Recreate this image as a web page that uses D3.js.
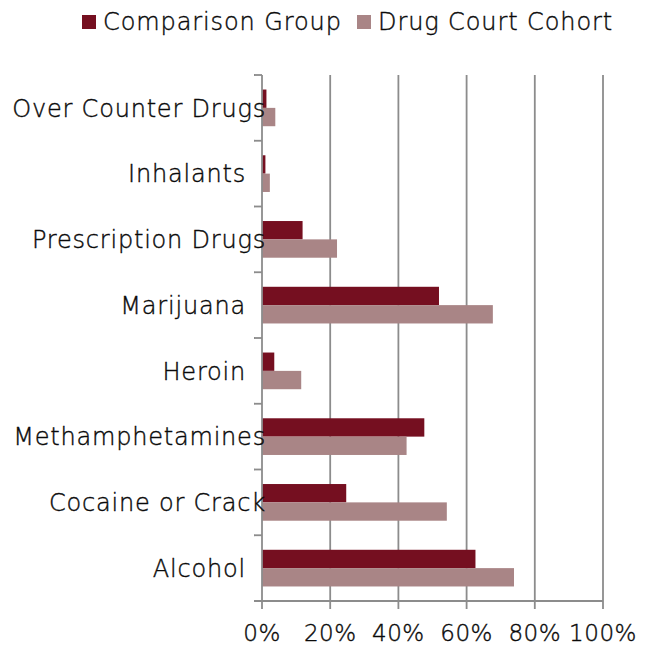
<!DOCTYPE html>
<html>
<head>
<meta charset="utf-8">
<script src="https://cdn.jsdelivr.net/npm/d3@7"></script>
<style>
  body { margin: 0; background: #fff; }
  svg text { font-family: "DejaVu Sans ExtraLight", "DejaVu Sans Light", "DejaVu Sans", sans-serif;
             font-weight: 300; fill: #0a0a0a; stroke: #0a0a0a; stroke-width: 0.4px; }
</style>
</head>
<body>
<svg id="chart" width="649" height="647"></svg>
<script>
// categories top -> bottom
var categories = ["Over Counter Drugs", "Inhalants", "Prescription Drugs", "Marijuana",
                  "Heroin", "Methamphetamines", "Cocaine or Crack", "Alcohol"];
var seriesNames = ["Comparison Group", "Drug Court Cohort"];
var comparison = [1.3, 1.0, 11.9, 51.9, 3.6, 47.6, 24.7, 62.6];
var drugCourt  = [3.9, 2.3, 22.0, 67.7, 11.5, 42.4, 54.2, 73.9];
var xTicks = [0, 20, 40, 60, 80, 100];
var colors = ["#750f20", "#a98586"];

const svg = d3.select("#chart"),
  plotL = 262, plotR = 603, plotT = 75, plotB = 601,
  gridCol = "#8c8c8c";

var data = categories.map((c, i) => ({cat: c, vals: [comparison[i], drugCourt[i]]}));

const x = d3.scaleLinear().domain([0, 100]).range([plotL, plotR]);
const y0 = d3.scaleBand().domain(categories).range([plotT, plotB])
  .paddingInner(0.442).paddingOuter(0.221);
const y1 = d3.scaleBand().domain([0, 1]).range([0, y0.bandwidth()]);

// gridlines
svg.append("g").selectAll("line")
  .data(xTicks.slice(1))
  .enter().append("line")
  .attr("x1", d => x(d)).attr("x2", d => x(d))
  .attr("y1", plotT).attr("y2", plotB + 8)
  .attr("stroke", gridCol).attr("stroke-width", 1.8);

// bars
var g = svg.append("g");
data.forEach(d => {
  g.selectAll(null)
    .data(d.vals)
    .enter().append("rect")
    .attr("x", x(0))
    .attr("y", (v, j) => y0(d.cat) + y1(j))
    .attr("width", v => x(v) - x(0))
    .attr("height", y1.bandwidth())
    .attr("fill", (v, j) => colors[j]);
});

// y axis with ticks at category boundaries
var bounds = d3.range(categories.length + 1).map(i => plotT + i * y0.step());
svg.append("line")
  .attr("x1", plotL).attr("x2", plotL).attr("y1", plotT).attr("y2", plotB)
  .attr("stroke", gridCol).attr("stroke-width", 1.8);
svg.append("g").selectAll("line").data(bounds).enter().append("line")
  .attr("x1", plotL - 8).attr("x2", plotL).attr("y1", d => d).attr("y2", d => d)
  .attr("stroke", gridCol).attr("stroke-width", 1.8);

// x axis
svg.append("line")
  .attr("x1", plotL - 8).attr("x2", plotR).attr("y1", plotB).attr("y2", plotB)
  .attr("stroke", gridCol).attr("stroke-width", 1.8);
svg.append("line")
  .attr("x1", plotL).attr("x2", plotL).attr("y1", plotB).attr("y2", plotB + 8)
  .attr("stroke", gridCol).attr("stroke-width", 1.8);

svg.append("g").selectAll("text").data(xTicks).enter().append("text")
  .attr("x", d => x(d)).attr("y", 641)
  .attr("text-anchor", "middle")
  .attr("font-size", 23)
  .attr("letter-spacing", 0.5)
  .text(d => d + "%");

// category labels: right aligned; long ones spill over the axis like the original
svg.append("g").selectAll("text").data(categories).enter().append("text")
  .attr("y", d => y0(d) + y0.bandwidth() / 2)
  .attr("dy", "0.36em")
  .attr("font-size", 24)
  .attr("letter-spacing", 0.8)
  .text(d => d)
  .each(function() {
    var w = this.getComputedTextLength();
    var end = w > 200 ? 266 : 246;
    d3.select(this).attr("x", end - w);
  });

// legend
var leg = svg.append("g");
var lx = [82, 357];
seriesNames.forEach((s, i) => {
  leg.append("rect").attr("x", lx[i]).attr("y", 15).attr("width", 14).attr("height", 14)
    .attr("fill", colors[i]);
  leg.append("text").attr("x", lx[i] + 21).attr("y", 30).attr("font-size", 24)
    .attr("letter-spacing", 0.9).text(s);
});
</script>
</body>
</html>
